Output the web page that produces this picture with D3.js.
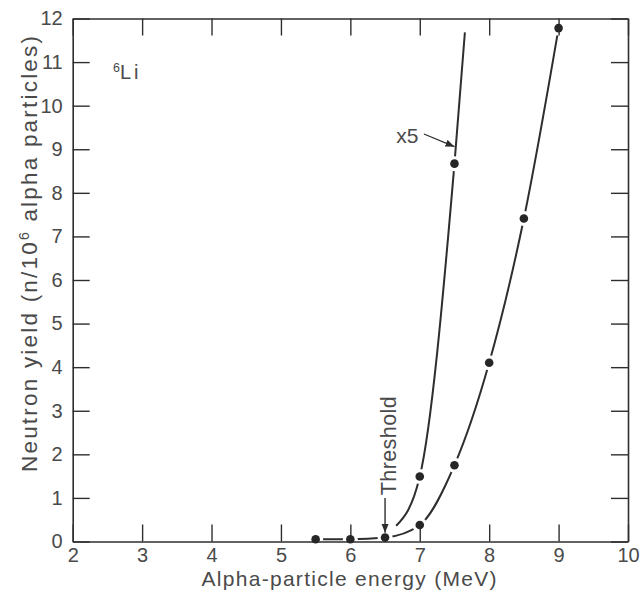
<!DOCTYPE html>
<html>
<head>
<meta charset="utf-8">
<script src="https://cdn.jsdelivr.net/npm/d3@7"></script>
<style>
  html, body { margin: 0; padding: 0; background: #fff; }
  svg { display: block; font-family: "Liberation Sans", Arial, sans-serif; }
</style>
</head>
<body>
<svg id="chart" width="640" height="598"></svg>
<script>
// Measured neutron yield for alpha particles on 6Li
const energy = [5.5, 6.0, 6.5, 7.0, 7.5, 8.0, 8.5, 9.0];
const yieldN = [0.05, 0.05, 0.09, 0.38, 1.75, 4.1, 7.41, 11.78];

// Same data scaled by five (upper curve); dots only where measured
const energyX5 = [6.66, 7.0, 7.5, 7.65];
const yieldX5  = [0.36, 1.49, 8.67, 11.68];
const dotIdxX5 = [1, 2];

const xTicks = [2, 3, 4, 5, 6, 7, 8, 9, 10];
const yTicks = [0, 1, 2, 3, 4, 5, 6, 7, 8, 9, 10, 11, 12];

const ink = "#2e2e2e";
const textInk = "#4a4a4a";

const svg = d3.select("#chart");
const x = d3.scaleLinear().domain([2, 10]).range([72.7, 628]);
const y = d3.scaleLinear().domain([0, 12]).range([541.5, 18.5]);

// arrowhead marker
svg.append("defs").append("marker")
  .attr("id", "head").attr("viewBox", "0 0 10 10")
  .attr("refX", 10).attr("refY", 5)
  .attr("markerWidth", 9).attr("markerHeight", 9)
  .attr("markerUnits", "userSpaceOnUse")
  .attr("orient", "auto")
  .append("path").attr("d", "M0,1 L10,5 L0,9 Z").attr("fill", ink);

// curves
const line = d3.line().x(d => x(d[0])).y(d => y(d[1])).curve(d3.curveMonotoneX);
const mainPts = energy.map((e, i) => [e, yieldN[i]]);
const x5Pts = energyX5.map((e, i) => [e, yieldX5[i]]);

svg.append("path").attr("d", line(mainPts))
  .attr("fill", "none").attr("stroke", ink).attr("stroke-width", 2);
svg.append("path").attr("d", line(x5Pts))
  .attr("fill", "none").attr("stroke", ink).attr("stroke-width", 2);

const dots = mainPts.concat(dotIdxX5.map(i => x5Pts[i]));

// white gaps around the measured points
svg.append("g").selectAll("circle").data(dots).join("circle")
  .attr("cx", d => x(d[0])).attr("cy", d => y(d[1])).attr("r", 7.5)
  .attr("fill", "#fff");

// axes on all four sides, ticks pointing inward
const tickLen = 17;
function styleAxis(g) {
  g.selectAll(".domain").attr("stroke", ink).attr("stroke-width", 1.6);
  g.selectAll(".tick line").attr("stroke", ink).attr("stroke-width", 1.4);
  g.selectAll(".tick text").attr("fill", textInk)
    .style("font-size", "20px").style("font-family", "'Liberation Sans', Arial, sans-serif");
}
svg.append("g").attr("transform", `translate(0,${y(0)})`)
  .call(d3.axisBottom(x).tickValues(xTicks).tickFormat(d3.format("d"))
    .tickSizeInner(-tickLen).tickSizeOuter(0).tickPadding(6))
  .call(styleAxis);
svg.append("g").attr("transform", `translate(${x(2)},0)`)
  .call(d3.axisLeft(y).tickValues(yTicks).tickFormat(d3.format("d"))
    .tickSizeInner(-tickLen).tickSizeOuter(0).tickPadding(10))
  .call(styleAxis);
svg.append("g").attr("transform", `translate(0,${y(12)})`)
  .call(d3.axisTop(x).tickValues(xTicks).tickFormat("")
    .tickSizeInner(-tickLen).tickSizeOuter(0))
  .call(styleAxis);
svg.append("g").attr("transform", `translate(${x(10)},0)`)
  .call(d3.axisRight(y).tickValues(yTicks).tickFormat("")
    .tickSizeInner(-tickLen).tickSizeOuter(0))
  .call(styleAxis);

// data points
svg.append("g").selectAll("circle").data(dots).join("circle")
  .attr("cx", d => x(d[0])).attr("cy", d => y(d[1])).attr("r", 4.3)
  .attr("fill", "#262626");

// axis titles
svg.append("text")
  .attr("x", x(5.98)).attr("y", 586)
  .attr("text-anchor", "middle")
  .attr("textLength", 295).attr("lengthAdjust", "spacing")
  .attr("fill", textInk).style("font-size", "21px")
  .text("Alpha-particle energy (MeV)");

const yTitle = svg.append("text")
  .attr("transform", "translate(37,472) rotate(-90)")
  .attr("text-anchor", "start")
  .attr("textLength", 436).attr("lengthAdjust", "spacing")
  .attr("fill", textInk).style("font-size", "22.5px");
yTitle.append("tspan").text("Neutron yield (n/10");
yTitle.append("tspan").attr("dy", -8).style("font-size", "14px").text("6");
yTitle.append("tspan").attr("dy", 8).text(" alpha particles)");

// isotope label
const iso = svg.append("text")
  .attr("x", x(2.58)).attr("y", 79)
  .attr("fill", textInk).style("font-size", "20px");
iso.append("tspan").attr("dy", -7).style("font-size", "12.5px").text("6");
iso.append("tspan").attr("dy", 7).attr("letter-spacing", "3px").text("Li");

// threshold annotation
svg.append("line")
  .attr("x1", x(6.5)).attr("x2", x(6.5))
  .attr("y1", y(1.0)).attr("y2", y(0.2))
  .attr("stroke", ink).attr("stroke-width", 1.4)
  .attr("marker-end", "url(#head)");
svg.append("text")
  .attr("transform", `translate(${x(6.5) + 10.5},${y(1.06)}) rotate(-90)`)
  .attr("text-anchor", "start")
  .attr("textLength", 99).attr("lengthAdjust", "spacing")
  .attr("fill", textInk).style("font-size", "21.5px")
  .text("Threshold");

// x5 label with arrow to the upper curve
svg.append("text")
  .attr("x", x(6.66)).attr("y", y(9.14))
  .attr("fill", textInk).style("font-size", "21px")
  .text("x5");
svg.append("line")
  .attr("x1", x(7.06)).attr("y1", y(9.35))
  .attr("x2", x(7.5)).attr("y2", y(9.06))
  .attr("stroke", ink).attr("stroke-width", 1.3)
  .attr("marker-end", "url(#head)");
</script>
</body>
</html>
